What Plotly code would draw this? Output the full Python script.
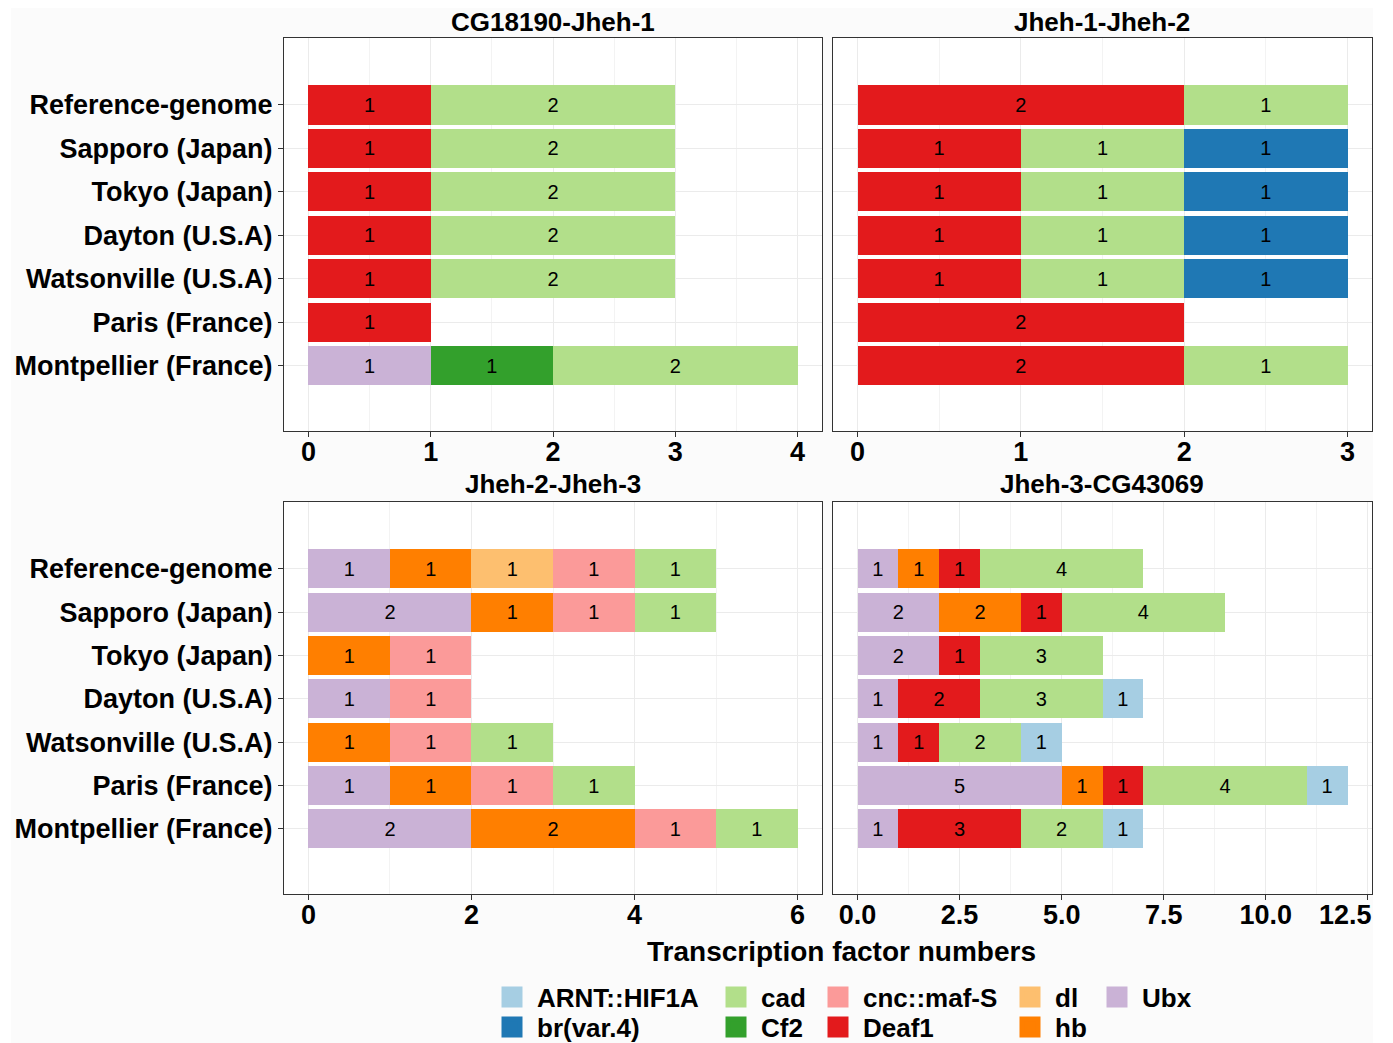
import plotly.graph_objects as go

# ---------------- data ----------------
locations = ["Reference-genome", "Sapporo (Japan)", "Tokyo (Japan)", "Dayton (U.S.A)",
             "Watsonville (U.S.A)", "Paris (France)", "Montpellier (France)"]

# stacking order (left -> right)
tf_names = ["Ubx", "hb", "dl", "Deaf1", "cnc::maf-S", "Cf2", "cad", "br(var.4)", "ARNT::HIF1A"]
tf_colors = ["#CAB2D6", "#FF7F00", "#FDBF6F", "#E31A1C", "#FB9A99", "#33A02C", "#B2DF8A",
             "#1F78B4", "#A6CEE3"]

panel_titles = ["CG18190-Jheh-1", "Jheh-1-Jheh-2", "Jheh-2-Jheh-3", "Jheh-3-CG43069"]

cg18190_jheh1 = {
    "Ubx":   [0, 0, 0, 0, 0, 0, 1],
    "Deaf1": [1, 1, 1, 1, 1, 1, 0],
    "Cf2":   [0, 0, 0, 0, 0, 0, 1],
    "cad":   [2, 2, 2, 2, 2, 0, 2],
}
jheh1_jheh2 = {
    "Deaf1":     [2, 1, 1, 1, 1, 2, 2],
    "cad":       [1, 1, 1, 1, 1, 0, 1],
    "br(var.4)": [0, 1, 1, 1, 1, 0, 0],
}
jheh2_jheh3 = {
    "Ubx":        [1, 2, 0, 1, 0, 1, 2],
    "hb":         [1, 1, 1, 0, 1, 1, 2],
    "dl":         [1, 0, 0, 0, 0, 0, 0],
    "cnc::maf-S": [1, 1, 1, 1, 1, 1, 1],
    "cad":        [1, 1, 0, 0, 1, 1, 1],
}
jheh3_cg43069 = {
    "Ubx":         [1, 2, 2, 1, 1, 5, 1],
    "hb":          [1, 2, 0, 0, 0, 1, 0],
    "Deaf1":       [1, 1, 1, 2, 1, 1, 3],
    "cad":         [4, 4, 3, 3, 2, 4, 2],
    "ARNT::HIF1A": [0, 0, 0, 1, 1, 1, 1],
}
panel_data = [cg18190_jheh1, jheh1_jheh2, jheh2_jheh3, jheh3_cg43069]

x_ranges = [[-0.2, 4.2], [-0.15, 3.15], [-0.3, 6.3], [-0.6, 12.6]]
x_tickvals = [[0, 1, 2, 3, 4], [0, 1, 2, 3], [0, 2, 4, 6], [0, 2.5, 5, 7.5, 10, 12.5]]
x_ticktext = [["0", "1", "2", "3", "4"], ["0", "1", "2", "3"], ["0", "2", "4", "6"],
              ["0.0", "2.5", "5.0", "7.5", "10.0", ""]]
x_minor = [0.5, 0.5, 1, 1.25]
last_tick_label = "12.5"   # drawn slightly left of its tick, as in the reference

# legend layout: (name, swatch-left px, row)
legend_layout = [("ARNT::HIF1A", 500, 0), ("br(var.4)", 500, 1),
                 ("cad", 724, 0), ("Cf2", 724, 1),
                 ("cnc::maf-S", 826, 0), ("Deaf1", 826, 1),
                 ("dl", 1018, 0), ("hb", 1018, 1),
                 ("Ubx", 1105, 0)]

# ---------------- figure ----------------
# the page has an 8px body margin; size the figure so that it fills the window
OFF = 8
W, H = 1393 - 2 * OFF, 1043 - OFF


def px(x):  # page pixel -> paper x
    return (x - OFF) / W


def py(y):  # page pixel -> paper y
    return 1 - (y - OFF) / H


FONT = "Liberation Sans, Arial, sans-serif"
fig = go.Figure()

# panel pixel boxes (page pixels): (left, right, top, bottom)
boxes = [(284, 822, 38, 431), (833, 1372, 38, 431),
         (284, 822, 502, 894), (833, 1372, 502, 894)]

color_of = dict(zip(tf_names, tf_colors))

for i, data in enumerate(panel_data):
    ax = "" if i == 0 else str(i + 1)
    for tf in tf_names:
        if tf not in data:
            continue
        vals = data[tf]
        fig.add_trace(go.Bar(
            orientation="h",
            y=locations,
            x=[v if v else None for v in vals],
            text=[str(v) if v else "" for v in vals],
            textposition="inside",
            insidetextanchor="middle",
            textangle=0,
            textfont=dict(family=FONT, size=20, color="black"),
            marker=dict(color=color_of[tf], line=dict(width=0)),
            name=tf,
            showlegend=False,
            hoverinfo="skip",
            xaxis="x" + ax,
            yaxis="y" + ax,
        ))

# legend-only traces
for k, (name, sx, row) in enumerate(legend_layout):
    lg = "legend" if k == 0 else f"legend{k + 1}"
    c = color_of[name]
    fig.add_trace(go.Scatter(
        x=[None], y=[None], mode="markers", name=name,
        marker=dict(symbol="square", size=16, color=c, line=dict(color=c, width=5)),
        legend=lg, showlegend=True, xaxis="x", yaxis="y", hoverinfo="skip",
    ))

layout = dict(
    width=W, height=H, autosize=False,
    margin=dict(l=0, r=0, t=0, b=0, autoexpand=False),
    paper_bgcolor="#FBFBFB", plot_bgcolor="white",
    barmode="stack", bargap=0.1,
    font=dict(family=FONT, color="black"),
)

cat_array = list(reversed(locations))
for i in range(4):
    l, r, t, b = boxes[i]
    ax = "" if i == 0 else str(i + 1)
    layout["xaxis" + ax] = dict(
        domain=[px(l), px(r)], anchor="y" + ax,
        range=x_ranges[i], tickmode="array", tickvals=x_tickvals[i], ticktext=x_ticktext[i],
        showgrid=True, gridcolor="#EBEBEB", gridwidth=1,
        minor=dict(dtick=x_minor[i], tick0=0, showgrid=True, gridcolor="#F3F3F3", gridwidth=1),
        zeroline=False,
        showline=True, linecolor="#333333", linewidth=1.2, mirror=True,
        ticks="outside", ticklen=5, tickcolor="#333333", tickwidth=1.2,
        ticklabelstandoff=-9,
        tickfont=dict(family=FONT, size=27, color="black", weight="bold"),
        fixedrange=True,
    )
    layout["yaxis" + ax] = dict(
        domain=[py(b), py(t)], anchor="x" + ax,
        type="category", categoryorder="array", categoryarray=cat_array,
        range=[-1.5, 7.54],
        showgrid=True, gridcolor="#EBEBEB", gridwidth=1,
        zeroline=False,
        showline=True, linecolor="#333333", linewidth=1.2, mirror=True,
        ticks="outside" if i in (0, 2) else "", ticklen=5, tickcolor="#333333", tickwidth=1.2,
        showticklabels=i in (0, 2),
        tickfont=dict(family=FONT, size=27, color="black", weight="bold"),
        fixedrange=True,
    )

# legends
for k, (name, sx, row) in enumerate(legend_layout):
    lg = "legend" if k == 0 else f"legend{k + 1}"
    cy = 997 if row == 0 else 1027
    layout[lg] = dict(
        x=px(sx - 13), xanchor="left", y=py(cy), yanchor="middle",
        bgcolor="rgba(0,0,0,0)", borderwidth=0,
        font=dict(family=FONT, size=26, color="black", weight="bold"),
        itemsizing="trace", itemwidth=40,
    )

fig.update_layout(**layout)

# panel titles
title_pos = [(553, 22), (1102, 22), (553, 484), (1102, 484)]
for (cx, cy), txt in zip(title_pos, panel_titles):
    fig.add_annotation(text=txt, x=px(cx), y=py(cy), xref="paper", yref="paper",
                       xanchor="center", yanchor="middle", showarrow=False,
                       font=dict(family=FONT, size=26, color="black", weight="bold"))

# last tick label of the bottom-right panel
fig.add_annotation(text=last_tick_label, x=12.5, xref="x4", y=py(915), yref="paper",
                   xanchor="right", yanchor="middle", xshift=6, showarrow=False,
                   font=dict(family=FONT, size=27, color="black", weight="bold"))

# x axis title
fig.add_annotation(text="Transcription factor numbers", x=px(841), y=py(951),
                   xref="paper", yref="paper", xanchor="center", yanchor="middle",
                   showarrow=False, font=dict(family=FONT, size=28, color="black", weight="bold"))

# white outer borders of the picture
for (x0, x1) in [(OFF, 11), (1373, 1393 - OFF)]:
    fig.add_shape(type="rect", xref="paper", yref="paper",
                  x0=px(x0), x1=px(x1), y0=0, y1=1,
                  fillcolor="white", line=dict(width=0), layer="below")

fig.write_html("out.html")
